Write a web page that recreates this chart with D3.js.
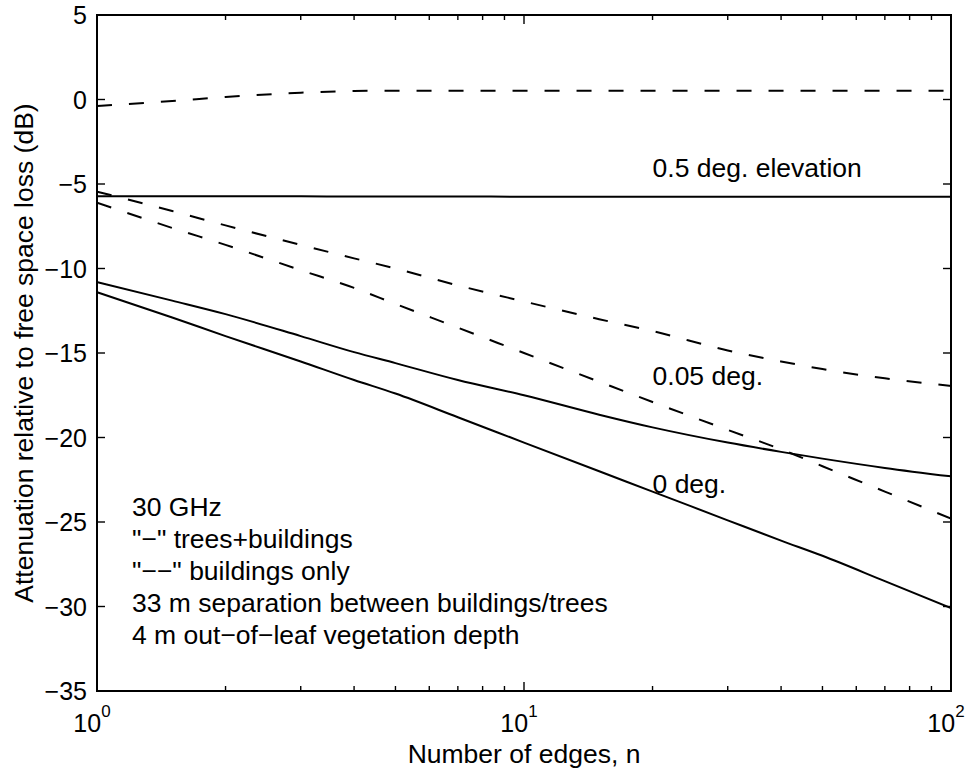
<!DOCTYPE html>
<html>
<head>
<meta charset="utf-8">
<script src="https://cdn.jsdelivr.net/npm/d3@7/dist/d3.min.js"></script>
<style>
  html, body { margin: 0; padding: 0; background: #fff; }
  svg { display: block; }
  text { font-family: "Liberation Sans", Arial, Helvetica, sans-serif; fill: #000; }
</style>
</head>
<body>
<svg id="chart" width="973" height="770"></svg>
<script>
// ---- data ----
const edges = [1, 1.5, 2, 3, 4, 5, 7, 10, 15, 20, 30, 40, 50, 70, 100];

// "--" buildings only
const dashed05deg   = [-0.38, -0.09, 0.15, 0.40, 0.50, 0.52, 0.52, 0.52, 0.52, 0.52, 0.52, 0.52, 0.52, 0.52, 0.52];
const dashed005deg  = [-5.45, -6.6, -7.45, -8.6, -9.4, -10.0, -11.0, -11.95, -13.0, -13.7, -14.85, -15.5, -15.95, -16.5, -16.95];
const dashed0deg    = [-6.1, -7.6, -8.6, -10.1, -11.15, -12.1, -13.5, -15.0, -16.7, -17.9, -19.55, -20.7, -21.7, -23.2, -24.8];
// "-" trees+buildings
const solid05deg    = [-5.72, -5.72, -5.73, -5.73, -5.74, -5.74, -5.74, -5.75, -5.75, -5.75, -5.75, -5.75, -5.75, -5.75, -5.75];
const solid005deg   = [-10.8, -11.9, -12.7, -14.0, -14.95, -15.6, -16.6, -17.5, -18.65, -19.4, -20.3, -20.85, -21.25, -21.8, -22.3];
const solid0deg     = [-11.4, -12.9, -14.0, -15.5, -16.6, -17.4, -18.8, -20.3, -22.0, -23.2, -24.9, -26.1, -27.0, -28.5, -30.1];

const yTicks = [5, 0, -5, -10, -15, -20, -25, -30, -35];
const xMajorExps = [0, 1, 2];
const curveLabels = ["0.5 deg. elevation", "0.05 deg.", "0 deg."];
const curveLabelN = 20;
const curveLabelValues = [-4.6, -16.9, -23.3];
const noteLines = ["30 GHz", "\"\u2212\" trees+buildings", "\"\u2212\u2212\" buildings only",
                   "33 m separation between buildings/trees", "4 m out\u2212of\u2212leaf vegetation depth"];
const xLabel = "Number of edges, n";
const yLabel = "Attenuation relative to free space loss (dB)";

// ---- layout ----
const L = 97, R = 951, T = 15, B = 691;
const FS = 26.5, TFS = 25;
const svg = d3.select("#chart");
const x = d3.scaleLog().domain([1, 100]).range([L, R]);
const y = d3.scaleLinear().domain([-35, 5]).range([B, T]);

const series = [
  {v: dashed05deg, dash: "15,17"},
  {v: dashed005deg, dash: "15,17"},
  {v: dashed0deg, dash: "15,17"},
  {v: solid05deg, dash: null},
  {v: solid005deg, dash: null},
  {v: solid0deg, dash: null}
];

const line = d3.line().curve(d3.curveMonotoneX)
  .x((d, i) => x(edges[i])).y(d => y(d));

svg.append("clipPath").attr("id", "clip")
  .append("rect").attr("x", L).attr("y", T).attr("width", R - L).attr("height", B - T);

const g = svg.append("g").attr("clip-path", "url(#clip)");
series.forEach(s => {
  g.append("path").attr("d", line(s.v))
    .attr("fill", "none").attr("stroke", "#000").attr("stroke-width", 2)
    .attr("stroke-dasharray", s.dash);
});

// ---- axes with inward ticks on all sides ----
const minorTicks = [];
[1, 10].forEach(b => { for (let k = 2; k <= 9; k++) minorTicks.push(b * k); });

const ax = svg.append("g").attr("stroke", "#000").attr("stroke-width", 1.4);
xMajorExps.forEach(e => {
  const px = x(Math.pow(10, e));
  ax.append("line").attr("x1", px).attr("x2", px).attr("y1", B).attr("y2", B - 9);
  ax.append("line").attr("x1", px).attr("x2", px).attr("y1", T).attr("y2", T + 9);
});
minorTicks.forEach(v => {
  const px = x(v);
  ax.append("line").attr("x1", px).attr("x2", px).attr("y1", B).attr("y2", B - 5);
  ax.append("line").attr("x1", px).attr("x2", px).attr("y1", T).attr("y2", T + 5);
});
yTicks.forEach(v => {
  const py = y(v);
  ax.append("line").attr("x1", L).attr("x2", L + 8).attr("y1", py).attr("y2", py);
  ax.append("line").attr("x1", R).attr("x2", R - 8).attr("y1", py).attr("y2", py);
});
svg.append("rect").attr("x", L).attr("y", T).attr("width", R - L).attr("height", B - T)
  .attr("fill", "none").attr("stroke", "#000").attr("stroke-width", 2);

// tick labels
yTicks.forEach(v => {
  svg.append("text").attr("x", L - 10).attr("y", y(v)).attr("dy", "0.36em")
    .attr("text-anchor", "end").attr("font-size", TFS)
    .text(v < 0 ? "\u2212" + Math.abs(v) : String(v));
});
xMajorExps.forEach(e => {
  const t = svg.append("text").attr("x", x(Math.pow(10, e)) - 5).attr("y", B + 41)
    .attr("text-anchor", "middle").attr("font-size", TFS);
  t.append("tspan").text("10");
  t.append("tspan").attr("font-size", 17).attr("dy", -15).text(String(e));
});

// axis titles
svg.append("text").attr("x", (L + R) / 2).attr("y", 763).attr("text-anchor", "middle")
  .attr("font-size", FS).text(xLabel);
svg.append("text").attr("transform", `translate(33,${(T + B) / 2}) rotate(-90)`)
  .attr("text-anchor", "middle").attr("font-size", FS).text(yLabel);

// curve labels
curveLabels.forEach((t, i) => {
  svg.append("text").attr("x", x(curveLabelN)).attr("y", y(curveLabelValues[i]))
    .attr("font-size", FS).text(t);
});

// notes
noteLines.forEach((t, i) => {
  svg.append("text").attr("x", 132).attr("y", 516 + i * 32)
    .attr("font-size", FS).text(t);
});
</script>
</body>
</html>
